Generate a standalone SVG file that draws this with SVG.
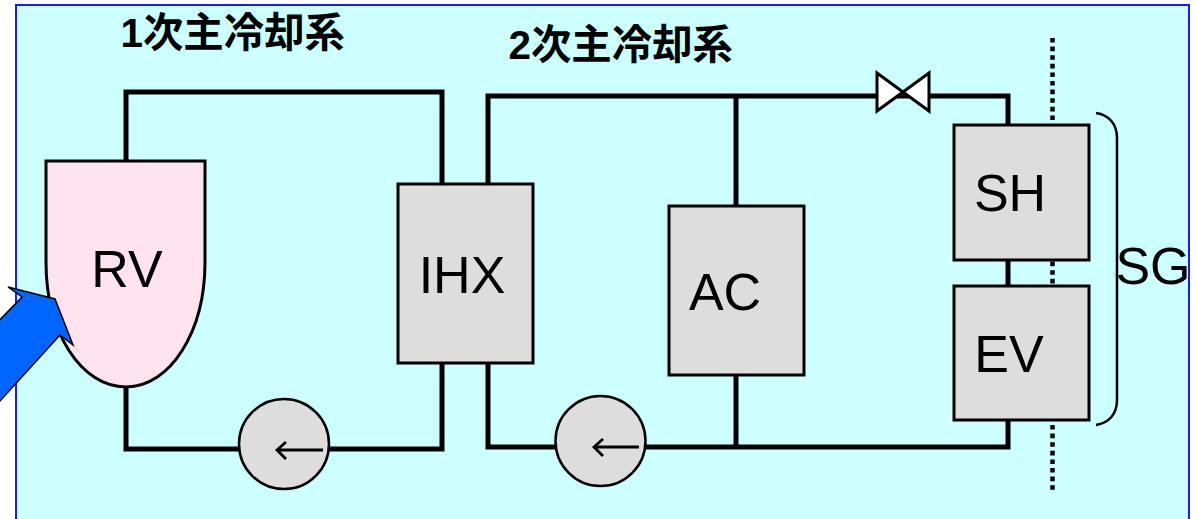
<svg xmlns="http://www.w3.org/2000/svg" width="1197" height="519" viewBox="0 0 1197 519">
<style>
.pipe{fill:none;stroke:#000;stroke-width:5}
.box{fill:#ddd;stroke:#000;stroke-width:3}
.pump{fill:#ddd;stroke:#000;stroke-width:2.5}
.lbl{font-family:"Liberation Sans","Noto Sans CJK JP",sans-serif;font-size:52px;fill:#000;text-anchor:middle}
.ttl{font-family:"Liberation Sans","Noto Sans CJK JP",sans-serif;font-size:40.4px;font-weight:bold;fill:#000}
.ar{fill:none;stroke:#000;stroke-width:2.8}
</style>
<rect x="0" y="0" width="1197" height="519" fill="#fff"/>
<rect x="16" y="5" width="1173" height="530" fill="#ccffff" stroke="#1a1aff" stroke-width="2"/>
<g id="labels">
<text class="ttl" x="120.5" y="47">1次主冷却系</text>
<text class="ttl" x="508.5" y="59">2次主冷却系</text>
</g>
<g id="connectors">
<path class="pipe" d="M126 161V92H442V183"/>
<path class="pipe" d="M126 387V449H442V363"/>
<path class="pipe" d="M488 183V96H1008V124"/>
<path class="pipe" d="M488 363V447H1008V420"/>
<path class="pipe" d="M736 96V205M736 375V447M1008 260V285"/>
<path d="M1052.5 38V491" fill="none" stroke="#000" stroke-width="4.5" stroke-dasharray="4.6 4"/>
<path d="M1096 113C1109 115 1117 124 1117 138V400C1117 414 1109 423 1096 425" fill="none" stroke="#000" stroke-width="2.5"/>
</g>
<g id="RV"><path d="M46 161H205V262C205 332 170 387 126 387C81 387 46 332 46 262Z" fill="#ffe4f0" stroke="#000" stroke-width="3"/><text class="lbl" x="127" y="287">RV</text></g>
<g id="IHX"><rect class="box" x="398" y="184" width="135" height="179"/><text class="lbl" x="462" y="293">IHX</text></g>
<g id="AC"><rect class="box" x="669" y="206" width="135" height="169"/><text class="lbl" x="725" y="310">AC</text></g>
<g id="SH"><rect class="box" x="954" y="125" width="135" height="135"/><text class="lbl" x="1010" y="211">SH</text></g>
<g id="EV"><rect class="box" x="954" y="286" width="135" height="134"/><text class="lbl" x="1009" y="372">EV</text></g>
<g id="SG"><text class="lbl" x="1153" y="284">SG</text></g>
<g id="pump1"><circle class="pump" cx="284" cy="444" r="45"/><path class="ar" d="M323 450H277M286 442L277 450L286 459"/></g>
<g id="pump2"><circle class="pump" cx="600.5" cy="441" r="45"/><path class="ar" d="M639 447H594M603 439L594 447L603 456"/></g>
<g id="valve"><path d="M877 73L929 111V73L877 111Z" fill="#fff" stroke="#000" stroke-width="3" stroke-linejoin="miter"/></g>
<g id="heat-arrow"><path d="M8 287L55 299L73 345L60 335L-10 412V330L22 297Z" fill="#0066ff" stroke="#000" stroke-width="1.5"/></g>
</svg>
